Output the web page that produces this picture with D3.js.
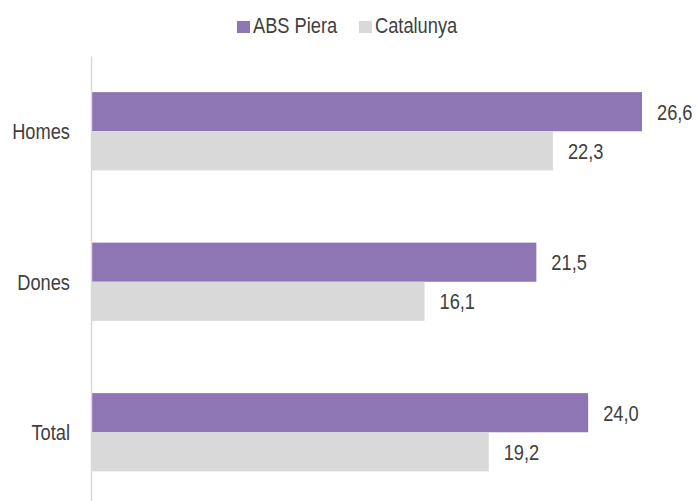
<!DOCTYPE html>
<html><head><meta charset="utf-8">
<script src="https://cdn.jsdelivr.net/npm/d3@7"></script>
<style>
html,body{margin:0;padding:0;background:#fff;}
svg text{font-family:"Liberation Sans",Arial,sans-serif;fill:#404040;font-size:22px;}
</style></head>
<body><svg id="c" width="697" height="501"></svg>
<script>
const categories = ["Homes","Dones","Total"];
const seriesNames = ["ABS Piera","Catalunya"];
const absPiera = [26.6, 21.5, 24.0];
const catalunya = [22.3, 16.1, 19.2];
const colors = ["#8e75b3","#d9d9d9"];
const NARROW = 0.83;

const svg = d3.select("#c");
const x = d3.scaleLinear().domain([0, 26.6]).range([91, 642]);
const y = d3.scaleBand().domain(categories).range([56, 507.5]).paddingInner(0.48).paddingOuter(0.24);
const inner = d3.scaleBand().domain(seriesNames).range([0, y.bandwidth()]);
const fmt = v => d3.format(".1f")(v).replace(".", ",");
const series = [absPiera, catalunya];

function narrowText(sel, tx, ty) {
  sel.attr("transform", (d,i) => `translate(${tx(d,i)},${ty(d,i)}) scale(${NARROW},1)`)
     .attr("x", 0).attr("y", 0);
}

series.forEach((vals, si) => {
  const g = svg.append("g");
  g.selectAll("rect").data(vals).join("rect")
    .attr("x", x(0))
    .attr("y", (d,i) => y(categories[i]) + inner(seriesNames[si]))
    .attr("width", d => x(d) - x(0))
    .attr("height", inner.bandwidth())
    .attr("fill", colors[si]);
  g.selectAll("text").data(vals).join("text")
    .attr("dy", "0.36em")
    .text(fmt)
    .call(narrowText, d => x(d) + 15, (d,i) => y(categories[i]) + inner(seriesNames[si]) + inner.bandwidth()/2);
});

const yAxis = d3.axisLeft(y).tickSize(0).tickPadding(21);
const ag = svg.append("g").attr("transform", `translate(${x(0)},0)`).call(yAxis);
ag.select(".domain").attr("stroke", "#d9d9d9").attr("stroke-width", 1.5);
ag.selectAll(".tick text")
  .attr("font-size", null).attr("font-family", null).attr("fill", "#404040")
  .attr("dy", "0.36em")
  .attr("transform", `translate(-21,0) scale(${NARROW},1)`).attr("x", 0);
ag.attr("font-size", null).attr("font-family", null);

const leg = svg.append("g");
const legX = [237, 359];
seriesNames.forEach((n, i) => {
  leg.append("rect").attr("x", legX[i]).attr("y", 21).attr("width", 13).attr("height", 12).attr("fill", colors[i]);
  leg.append("text").text(n)
    .attr("transform", `translate(${legX[i] + 16},33.3) scale(${NARROW},1)`);
});
</script></body></html>
